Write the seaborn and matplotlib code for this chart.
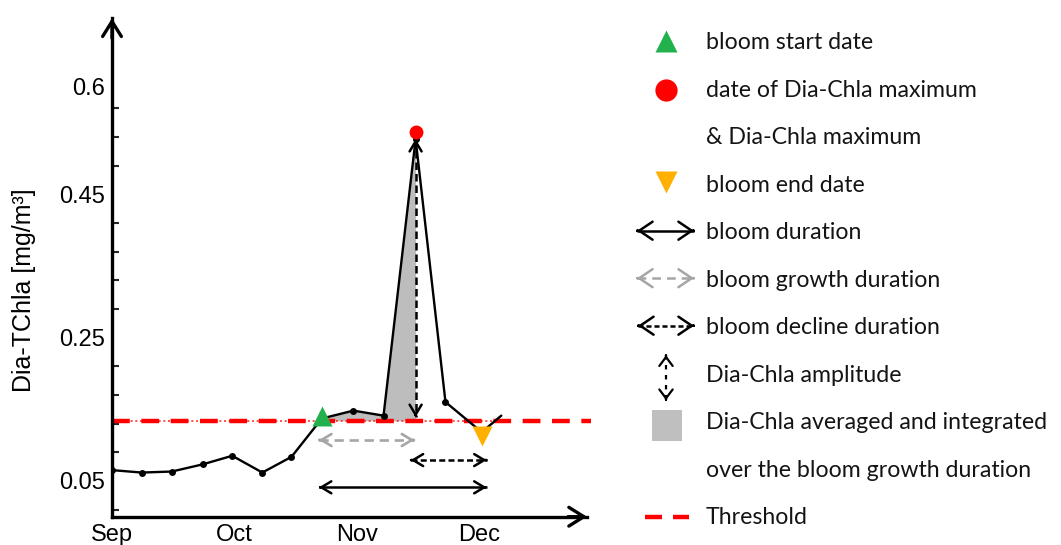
import numpy as np
import pandas as pd
import matplotlib
matplotlib.use("Agg")
import matplotlib.pyplot as plt
from matplotlib.patches import Rectangle
import seaborn as sns

# ---------------- data ----------------
week_pos = [0.0, 1.21, 2.44, 3.70, 4.91, 6.14, 7.33, 8.57, 9.86, 11.09, 12.40, 13.62, 15.10, 15.90]
dia_tchla = [0.065, 0.0616, 0.063, 0.073, 0.085, 0.0616, 0.0835, 0.137, 0.148, 0.141, 0.527, 0.160, 0.118, 0.141]
threshold = 0.134

month_ticks = [0, 5, 10, 15]
month_labels = ["Sep", "Oct", "Nov", "Dec"]
minor_x_ticks = list(range(16))
y_major = [0.05, 0.25, 0.45, 0.6]
y_major_labels = ["0.05", "0.25", "0.45", "0.6"]
y_minor = [0.01, 0.09, 0.13, 0.17, 0.21, 0.29, 0.33, 0.37, 0.41, 0.49, 0.53, 0.57]

start_x, start_y = 8.57, 0.140
max_x, max_y = 12.40, 0.537
end_x, end_y = 15.12, 0.113

growth_span = (8.45, 12.35, 0.107)
decline_span = (12.20, 15.30, 0.079)
duration_span = (8.45, 15.30, 0.041)
amplitude_span = (12.40, 0.527, 0.139)

legend_labels = ["bloom start date", "date of Dia-Chla maximum", "& Dia-Chla maximum",
                 "bloom end date", "bloom duration", "bloom growth duration",
                 "bloom decline duration", "Dia-Chla amplitude",
                 "Dia-Chla averaged and integrated", "over the bloom growth duration",
                 "Threshold"]

GREEN = "#22b14c"
RED = "#ff0000"
ORANGE = "#ffb000"
GREY_FILL = "#bdbdbd"
GREY_ARROW = "#a6a6a6"

# ---------------- style ----------------
sns.set_theme(style="white")
plt.rcParams["font.family"] = ["Liberation Sans", "DejaVu Sans"]

fig = plt.figure(figsize=(10.61, 5.45), dpi=100)
ax = fig.add_axes([112 / 1061, 28.3 / 545, 475 / 1061, 498.4 / 545])
ax.set_facecolor("none")

df = pd.DataFrame({"x": week_pos, "y": dia_tchla})

# shaded area between the curve and the threshold over growth period
seg = df[(df.x >= start_x - 0.01) & (df.x <= max_x + 0.01)]
ax.fill_between(seg.x, seg.y, threshold, where=seg.y >= threshold, interpolate=True,
                color=GREY_FILL, lw=0, zorder=1)

# threshold line
ax.plot([0, 19.55], [threshold, threshold], color=RED, lw=3.2, ls=(0, (4.0, 2.6)),
        zorder=2, clip_on=False, solid_capstyle="butt", dash_capstyle="butt")
ax.plot([0, 15.9], [threshold, threshold], color=RED, lw=1.2, ls=(0, (1.2, 1.6)),
        alpha=0.8, zorder=2)

# data line
sns.lineplot(data=df, x="x", y="y", ax=ax, color="black", lw=1.7, marker="o",
             markersize=5, markeredgewidth=0, markevery=list(range(len(df) - 1)),
             zorder=3, legend=False)


def dbl_arrow(a, p0, p1, color, ls, lw, ms, hw=0.24, z=4):
    a.plot([p0[0], p1[0]], [p0[1], p1[1]], color=color, ls=ls, lw=lw, zorder=z,
           dash_capstyle="butt", solid_capstyle="butt")
    for s, e in ((p0, p1), (p1, p0)):
        a.annotate("", xy=s, xytext=(s[0] + (e[0] - s[0]) * 0.01, s[1] + (e[1] - s[1]) * 0.01),
                   arrowprops=dict(arrowstyle=f"->,head_length=0.4,head_width={hw}",
                                   color=color, lw=lw, shrinkA=0, shrinkB=0,
                                   mutation_scale=ms), zorder=z)


dbl_arrow(ax, (growth_span[0], growth_span[2]), (growth_span[1], growth_span[2]),
          GREY_ARROW, (0, (3.5, 2.2)), 1.9, 18)
dbl_arrow(ax, (decline_span[0], decline_span[2]), (decline_span[1], decline_span[2]),
          "black", (0, (2.4, 1.3)), 1.8, 18)
dbl_arrow(ax, (duration_span[0], duration_span[2]), (duration_span[1], duration_span[2]),
          "black", "-", 1.8, 18)
dbl_arrow(ax, (amplitude_span[0], amplitude_span[1]), (amplitude_span[0], amplitude_span[2]),
          "black", (0, (3.0, 1.6)), 1.8, 18)

# event markers
ax.plot([start_x], [start_y], marker="^", ms=15, color=GREEN, mec="none", zorder=5, ls="none")
ax.plot([max_x], [max_y], marker="o", ms=10, color=RED, mec="none", zorder=5, ls="none")
ax.plot([end_x], [end_y], marker="v", ms=15, color=ORANGE, mec="none", zorder=5, ls="none")

# axes
ax.set_xlim(0, 19.4)
ax.set_ylim(0, 0.6954)
for s in ["top", "right"]:
    ax.spines[s].set_visible(False)
for s in ["left", "bottom"]:
    ax.spines[s].set_linewidth(2.4)
    ax.spines[s].set_color("black")

ax.set_xticks(minor_x_ticks)
ax.set_xticklabels([month_labels[month_ticks.index(t)] if t in month_ticks else "" for t in minor_x_ticks])
ax.set_yticks(y_major)
ax.set_yticklabels(y_major_labels)
ax.set_yticks(y_minor, minor=True)
ax.tick_params(axis="x", which="major", direction="in", length=5, width=1.5,
               labelsize=17, pad=5.5, colors="black")
ax.tick_params(axis="y", which="major", direction="out", length=4, width=1.5,
               labelsize=17, pad=1, colors="black")
ax.tick_params(axis="y", which="minor", direction="in", length=5, width=1.5, left=True)
ax.set_xlabel("")
ax.set_ylabel("")

ax.annotate("", xy=(0, 1.0), xytext=(0, 0.96), xycoords="axes fraction",
            arrowprops=dict(arrowstyle="->,head_length=0.4,head_width=0.25", lw=2.4,
                            color="black", shrinkA=0, shrinkB=0, mutation_scale=27),
            annotation_clip=False)
ax.annotate("", xy=(1.0, 0), xytext=(0.96, 0), xycoords="axes fraction",
            arrowprops=dict(arrowstyle="->,head_length=0.4,head_width=0.25", lw=2.4,
                            color="black", shrinkA=0, shrinkB=0, mutation_scale=27),
            annotation_clip=False)

fig.text(24 / 1061, 1 - 290 / 545, "Dia-TChla [mg/m³]", rotation=90, ha="center",
         va="center", fontsize=18, color="black")

# ---------------- legend (drawn in figure pixel space) ----------------
lax = fig.add_axes([0, 0, 1, 1])
lax.set_xlim(0, 1061)
lax.set_ylim(545, 0)
lax.axis("off")
lax.set_facecolor("none")

row_y = [40.7 + i * 47.5 for i in range(len(legend_labels))]
for lab, yy in zip(legend_labels, row_y):
    lax.text(706, yy, lab, fontsize=16.7, va="center_baseline", ha="left",
             family=["Lato", "DejaVu Sans"], color="#141414")

mx = 666
lax.plot([mx], [row_y[0]], marker="^", ms=16, color=GREEN, mec="none", ls="none")
lax.plot([mx], [row_y[1] + 2], marker="o", ms=16, color=RED, mec="none", ls="none")
lax.plot([mx], [row_y[3] - 1], marker="v", ms=16, color=ORANGE, mec="none", ls="none")
dbl_arrow(lax, (637, row_y[4]), (694, row_y[4]), "black", "-", 1.8, 24, hw=0.27)
dbl_arrow(lax, (637, row_y[5]), (694, row_y[5]), GREY_ARROW, (0, (3.5, 2.4)), 1.8, 24, hw=0.27)
dbl_arrow(lax, (638, row_y[6]), (694, row_y[6]), "black", (0, (2.0, 1.2)), 1.8, 24, hw=0.27)
dbl_arrow(lax, (mx, row_y[7] - 18), (mx, row_y[7] + 27), "black", (0, (2.0, 2.5)), 1.6, 16, hw=0.3)
lax.add_patch(Rectangle((652, row_y[8] - 10.5), 30, 31, color="#bfbfbf", lw=0))
lax.plot([645, 662], [row_y[10] + 1, row_y[10] + 1], color=RED, lw=3.2, solid_capstyle="butt")
lax.plot([673, 689], [row_y[10] + 1, row_y[10] + 1], color=RED, lw=3.2, solid_capstyle="butt")

fig.savefig("out.png", dpi=100)
